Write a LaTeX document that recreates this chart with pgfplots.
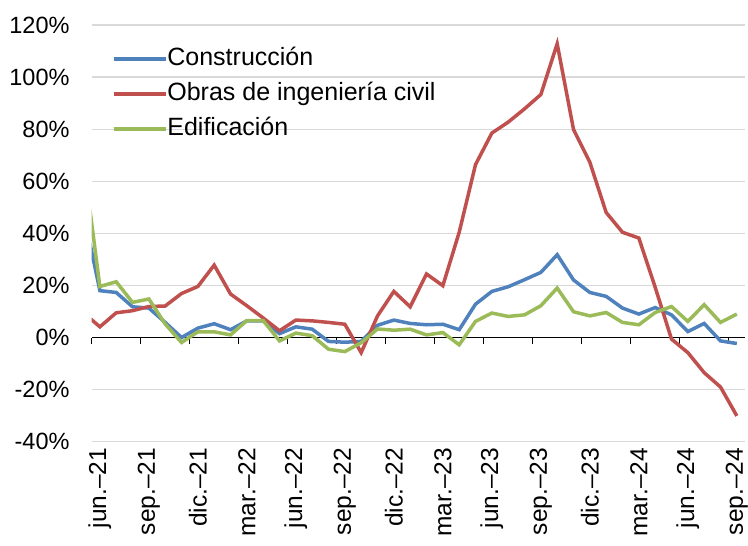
\documentclass[border=0pt]{standalone}
\usepackage{fontspec}
\setmainfont{Liberation Sans}
\usepackage{pgfplots}
\usepackage{pgfplotstable}
\pgfplotsset{compat=1.18}
\definecolor{cblue}{HTML}{4F81BD}
\definecolor{cred}{HTML}{C0504D}
\definecolor{cgreen}{HTML}{9BBB59}
\definecolor{gridgray}{RGB}{217,217,217}
\pgfplotstableread{
x  con  obr  edi
-1 48 9.5 68
0 18.0 4.1 19.6
1 17.3 9.5 21.4
2 11.8 10.3 13.5
3 11.3 11.9 14.8
4 5.8 12.1 5.2
5 0.0 16.9 -1.9
6 3.6 19.6 2.2
7 5.3 27.8 2.2
8 3.0 16.7 1.0
9 6.4 12.2 6.5
10 6.4 7.5 6.5
11 1.5 2.6 -1.3
12 4.1 6.7 1.7
13 3.2 6.4 0.7
14 -1.5 5.8 -4.5
15 -1.8 5.1 -5.4
16 -1.5 -5.8 -2.0
17 4.7 8.3 3.3
18 6.7 17.7 2.8
19 5.4 11.8 3.2
20 4.9 24.4 1.0
21 5.1 19.9 1.9
22 3.0 40.4 -2.8
23 12.8 66.4 6.2
24 17.7 78.5 9.4
25 19.5 82.7 8.1
26 22.2 87.8 8.7
27 25.0 93.3 12.2
28 31.8 112.8 19.0
29 22.1 79.9 9.9
30 17.3 67.3 8.3
31 15.8 48.0 9.6
32 11.3 40.4 5.8
33 9.0 38.2 4.9
34 11.5 19.3 9.6
35 8.7 -0.6 11.9
36 2.3 -5.8 6.2
37 5.4 -13.5 12.6
38 -1.3 -19.0 5.8
39 -2.3 -30.1 9.0
}\datatable
\begin{document}
\begin{tikzpicture}
\pgfplotsset{
  common/.style={
    scale only axis, width=653.3bp, height=416.7bp,
    xmin=-0.5, xmax=39.5, ymin=-40, ymax=120,
    at={(0,0)}, anchor=south west,
  }
}
% background axis: grid and labels
\begin{axis}[common,
  axis line style={draw=none},
  ytick={-40,-20,0,20,40,60,80,100,120},
  yticklabels={-40\%,-20\%,0\%,20\%,40\%,60\%,80\%,100\%,120\%},
  xtick={0,3,...,39},
  xticklabels={jun.\textendash21,sep.\textendash21,dic.\textendash21,mar.\textendash22,jun.\textendash22,sep.\textendash22,dic.\textendash22,mar.\textendash23,jun.\textendash23,sep.\textendash23,dic.\textendash23,mar.\textendash24,jun.\textendash24,sep.\textendash24},
  major tick length=0pt,
  tick style={draw=none},
  ymajorgrids,
  grid style={gridgray, line width=1.3bp},
  yticklabel style={font=\fontsize{23.5bp}{28bp}\selectfont, anchor=east, inner sep=0pt, xshift=-22bp},
  xticklabel style={font=\fontsize{24.5bp}{28bp}\selectfont, rotate=90, anchor=east, inner sep=0pt, xshift=-6bp},
]
\end{axis}
% foreground axis: zero line, ticks, data and legend
\begin{axis}[common,
  axis x line=middle, axis y line=none,
  axis line style={-, black, line width=1.3bp},
  xtick={-0.5,2.5,...,38.5},
  xticklabels={},
  ytick=\empty,
  tick align=outside,
  major tick length=6bp,
  tick style={black, line width=1.3bp},
  legend style={at={(0.0306,0.947)}, anchor=north west, draw=none, fill=none,
    font=\fontsize{25bp}{30bp}\selectfont, inner sep=0pt,
    row sep=12bp,
    nodes={inner sep=0pt, text height=18bp, text depth=5bp}},
  legend cell align=left,
  legend image code/.code={\draw[#1] (0bp,0bp) -- (52bp,0bp);},
  /tikz/every even column/.append style={column sep=6bp},
]
\addplot[cblue, line width=3.5bp] table[x=x, y=con] {\datatable};
\addlegendentry{Construcción}
\addplot[cred, line width=3.5bp] table[x=x, y=obr] {\datatable};
\addlegendentry{Obras de ingeniería civil}
\addplot[cgreen, line width=3.5bp] table[x=x, y=edi] {\datatable};
\addlegendentry{Edificación}
\end{axis}
\pgfresetboundingbox
\path[use as bounding box] ([xshift=-91.7bp,yshift=-104.3bp]current axis.south west) rectangle ([xshift=3bp,yshift=25bp]current axis.north east);
\end{tikzpicture}
\end{document}
